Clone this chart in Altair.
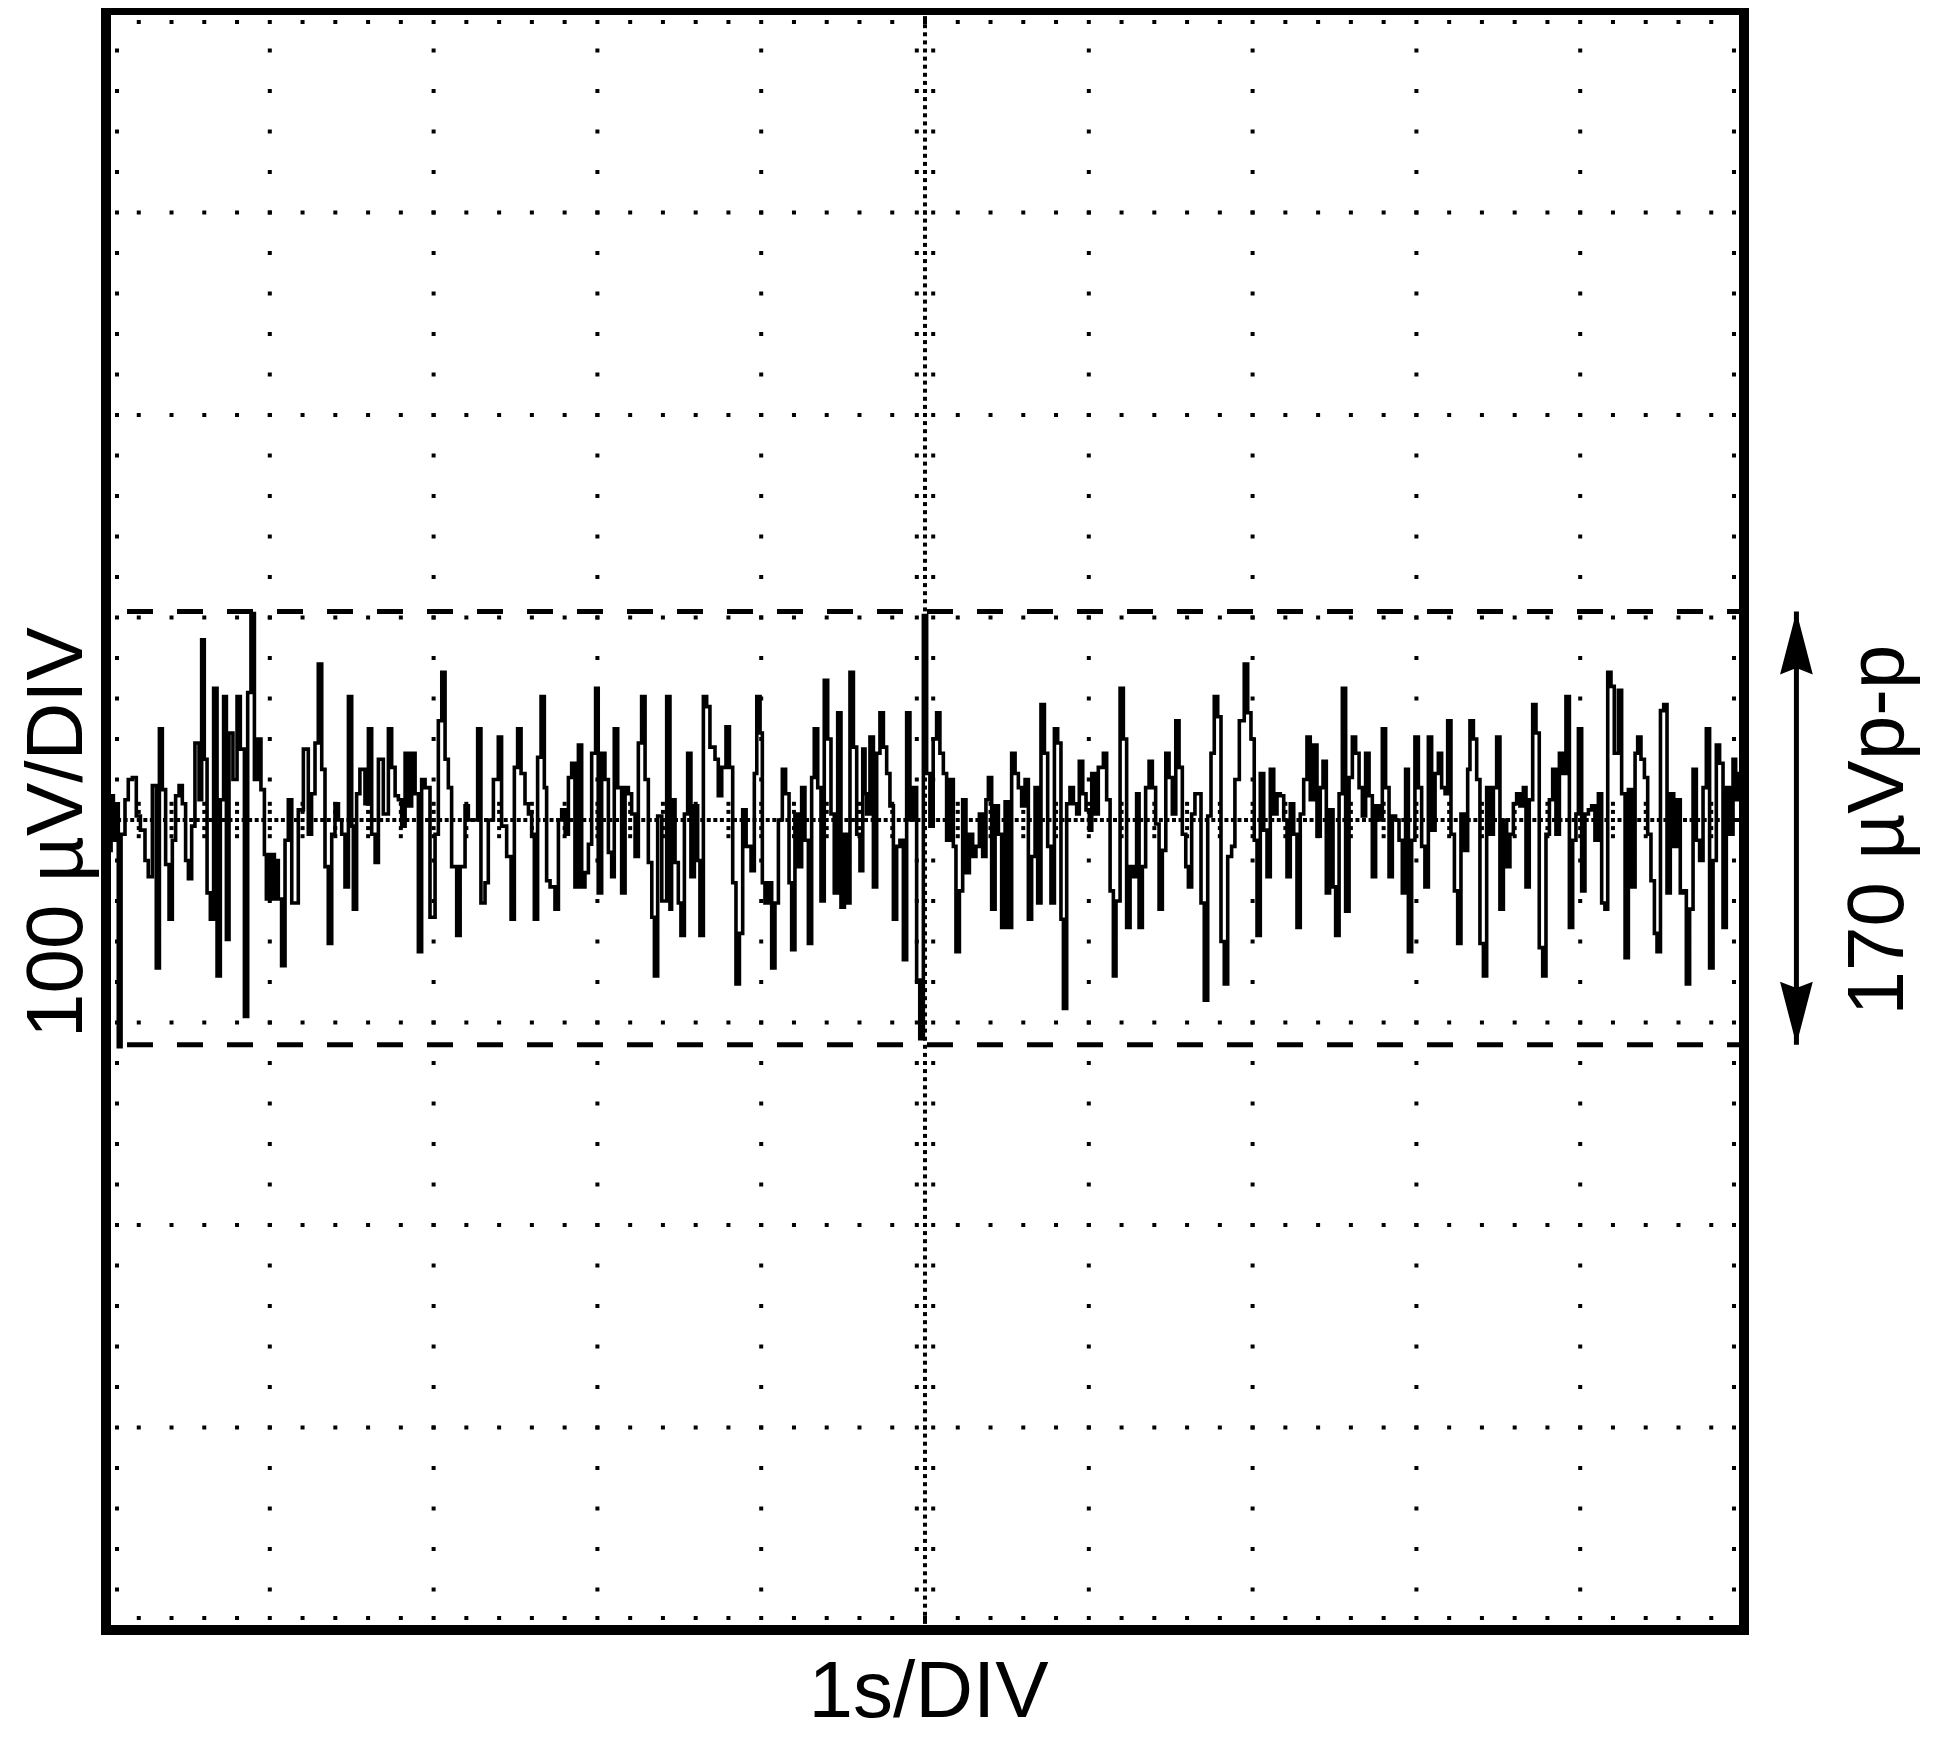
import altair as alt
import pandas as pd

X_TITLE = "1s/DIV"
Y_TITLE = "100 µV/DIV"
PP_LABEL = "170 µVp-p"
FONT = "Liberation Sans"

# graticule: 1 s/DIV x 10 divisions, 100 µV/DIV x 8 divisions
T_DOMAIN = [0, 10]
V_DOMAIN = [-400, 400]
MAJOR_T = list(range(0, 11))
MAJOR_V = list(range(-400, 401, 100))

# noise trace (time s, µV), in stretches
seg1 = [(0.0, 5), (0.014, -15), (0.031, 12), (0.045, -10), (0.059, 8), (0.075, -112), (0.092, -7),
        (0.116, 10), (0.136, 20), (0.161, 21), (0.185, 2), (0.21, -5), (0.238, -20), (0.258, -28),
        (0.283, 17), (0.307, -73), (0.326, 45), (0.344, 15), (0.364, -22), (0.385, -49), (0.405, -10),
        (0.425, 12), (0.446, 17), (0.466, 8), (0.486, -20), (0.503, -29), (0.523, -3), (0.543, 38),
        (0.568, 10), (0.584, 89), (0.6, 30), (0.617, -36), (0.637, -49), (0.657, 65), (0.678, -77),
        (0.698, 10), (0.718, 61), (0.735, -59), (0.751, 43), (0.775, 20), (0.8, 61), (0.82, 35),
        (0.845, -97), (0.865, 63), (0.885, 102), (0.906, 20), (0.926, 40), (0.946, 15), (0.967, -17),
        (0.979, -39), (0.991, -17), (1.003, -39), (1.015, -17), (1.028, -39), (1.04, -20), (1.052, -39),
        (1.072, -72), (1.093, -10), (1.113, 10)]
seg2 = [(1.134, -41), (1.174, 5), (1.205, 35), (1.235, -7), (1.255, 13), (1.276, 38), (1.296, 77),
        (1.317, 25), (1.337, -23), (1.357, -61), (1.378, -7), (1.398, 8), (1.419, 0), (1.439, -7),
        (1.459, -33), (1.48, 61), (1.5, -3), (1.51, -44), (1.53, 13), (1.55, 25), (1.581, 8), (1.602, 45),
        (1.622, -7), (1.643, -21), (1.663, 30), (1.693, 3), (1.724, 45), (1.744, 26), (1.765, 12),
        (1.785, 10), (1.805, -3), (1.826, 33), (1.846, 7), (1.866, 33), (1.887, 13), (1.907, -65),
        (1.927, 20), (1.948, 16), (1.978, -48), (2.009, -7), (2.029, 49), (2.05, 73), (2.07, 30),
        (2.09, 16), (2.11, -23), (2.141, -57), (2.162, -23), (2.192, 7), (2.212, 0), (2.243, 0)]
seg3 = [(2.269, 45), (2.289, -41), (2.314, -31), (2.334, 0), (2.365, 20), (2.395, 41), (2.415, -3),
        (2.446, -18), (2.473, -49), (2.493, 26), (2.513, 45), (2.534, 23), (2.558, 8), (2.579, 3),
        (2.599, -7), (2.615, -49), (2.635, 31), (2.656, 61), (2.676, 16), (2.69, -30), (2.711, -33),
        (2.741, -44), (2.762, 0), (2.782, 5), (2.803, -7), (2.823, 21), (2.843, 28), (2.863, -33),
        (2.884, 37), (2.904, -33), (2.924, -26), (2.945, -12), (2.965, 33), (2.989, 65), (3.005, -36),
        (3.026, 33), (3.046, 20), (3.067, -16), (3.087, -28), (3.103, 45), (3.124, 16), (3.148, -36),
        (3.169, 16), (3.189, 13), (3.209, 3), (3.23, -18), (3.25, 38), (3.27, 61), (3.291, 20),
        (3.311, -21), (3.332, -48), (3.348, -77), (3.368, 2), (3.393, -40), (3.423, 61), (3.443, -44)]
seg4 = [(3.453, 10), (3.474, -21), (3.494, -41), (3.51, -57), (3.531, 3), (3.551, 33), (3.571, -28),
        (3.592, 7), (3.612, -20), (3.626, -57), (3.647, 61), (3.667, 56), (3.687, 36), (3.718, 30),
        (3.738, 12), (3.759, 26), (3.785, 46), (3.806, 26), (3.826, -31), (3.846, -81), (3.867, -56),
        (3.887, 5), (3.908, -13), (3.938, -25), (3.958, 23), (3.973, 61), (3.993, 43), (4.007, -31),
        (4.023, -41), (4.044, -31), (4.064, -73), (4.084, -41), (4.105, 0), (4.129, 25), (4.149, 13),
        (4.17, -31), (4.186, -64), (4.206, 3), (4.226, -23), (4.247, 16), (4.267, -10), (4.288, -61),
        (4.308, 21), (4.324, 45), (4.345, 16), (4.365, -40), (4.385, 69), (4.406, 40), (4.426, 3),
        (4.446, -36), (4.467, 53), (4.487, -43), (4.508, -7), (4.528, -41), (4.542, 73), (4.563, 36),
        (4.583, -7), (4.603, -25)]
seg5 = [(4.62, 35), (4.634, 13), (4.644, 3), (4.664, 41), (4.685, -33), (4.705, 33), (4.725, 53),
        (4.746, 36), (4.766, 23), (4.786, 7), (4.807, -49), (4.827, -13), (4.847, -10), (4.868, -69),
        (4.888, 53), (4.908, 0), (4.929, 16), (4.949, -79), (4.968, -108), (4.99, 101), (5.01, 23),
        (5.03, -3), (5.05, 40), (5.071, 53), (5.091, 33), (5.112, 23), (5.132, -10), (5.153, 20),
        (5.173, -13), (5.189, -65), (5.21, -35), (5.23, 10), (5.25, -26), (5.271, -7), (5.291, -18),
        (5.311, -13), (5.332, 3), (5.352, -18), (5.372, 10), (5.387, 21), (5.407, -44), (5.428, 7),
        (5.448, -7), (5.468, -53), (5.489, 9), (5.509, -53), (5.529, 33), (5.55, 23), (5.57, 16),
        (5.59, 7), (5.611, 20), (5.631, -49), (5.651, -18), (5.672, 16), (5.688, -41), (5.708, 57),
        (5.729, 33), (5.749, -13)]
seg6 = [(5.769, -41), (5.79, 45), (5.81, 38), (5.83, -49), (5.845, -93), (5.865, 8), (5.885, 16),
        (5.906, 8), (5.926, 3), (5.942, 29), (5.963, 13), (5.983, 5), (6.003, -5), (6.018, 23),
        (6.038, 3), (6.058, 26), (6.089, 33), (6.109, 10), (6.13, -35), (6.15, -77), (6.166, -40),
        (6.191, 65), (6.211, 40), (6.231, -53), (6.252, -23), (6.272, -28), (6.292, 13), (6.307, -53),
        (6.327, -23), (6.347, 16), (6.368, 29), (6.388, 16), (6.408, -2), (6.429, -44), (6.449, -15),
        (6.47, 33), (6.49, 21), (6.51, 3), (6.531, 49), (6.551, 26), (6.571, -7), (6.592, -23),
        (6.608, -33), (6.628, 3), (6.648, 13), (6.669, 13), (6.685, -41), (6.705, -89), (6.726, 2),
        (6.746, 33), (6.766, 61), (6.787, 51), (6.807, -60), (6.827, -81), (6.848, -18), (6.872, -13),
        (6.892, 20), (6.919, 49)]
seg7 = [(6.949, 77), (6.97, 53), (6.99, 40), (7.01, -10), (7.027, -57), (7.047, 23), (7.068, -5),
        (7.088, -28), (7.108, 25), (7.129, 3), (7.149, 13), (7.169, 12), (7.19, 0), (7.21, -28),
        (7.23, 8), (7.251, -7), (7.271, -53), (7.291, 3), (7.312, 20), (7.332, 41), (7.352, 10),
        (7.373, 37), (7.393, -8), (7.413, 16), (7.43, 29), (7.45, -36), (7.47, 5), (7.491, -33),
        (7.507, -57), (7.528, 13), (7.548, 65), (7.568, -45), (7.589, 21), (7.609, 41), (7.629, 33),
        (7.65, 16), (7.67, 2), (7.69, 33), (7.711, 12), (7.731, -28), (7.751, 7), (7.772, 0),
        (7.792, 45), (7.812, 16), (7.833, -28), (7.853, 2), (7.873, 0), (7.894, -10), (7.914, -36),
        (7.934, 25), (7.951, -65), (7.971, -10), (7.991, 41), (8.012, 16), (8.032, -13), (8.052, -33),
        (8.073, 41)]
seg8 = [(8.093, -5), (8.114, 23), (8.134, 33), (8.154, 16), (8.175, 13), (8.191, 49), (8.211, -7),
        (8.232, -35), (8.252, -61), (8.272, 3), (8.293, -15), (8.313, 25), (8.327, 49), (8.348, 40),
        (8.368, 20), (8.388, -61), (8.409, -77), (8.429, 16), (8.449, -7), (8.47, 16), (8.49, 41),
        (8.51, -44), (8.531, 0), (8.551, -23), (8.571, -7), (8.592, 8), (8.612, 13), (8.632, 7),
        (8.653, 16), (8.669, -33), (8.689, 10), (8.71, 57), (8.73, 43), (8.75, -63), (8.771, -77),
        (8.791, -7), (8.812, 10), (8.832, 25), (8.852, -7), (8.873, 33), (8.893, 23), (8.913, 61),
        (8.934, -53), (8.954, -10), (8.974, 3), (8.989, 45), (9.009, -35), (9.029, 3), (9.05, 5),
        (9.07, 7), (9.09, -10), (9.111, 13), (9.131, -41), (9.151, -44), (9.168, 73), (9.188, 66),
        (9.208, 33), (9.233, 64)]
seg9 = [(9.253, 13), (9.274, -68), (9.294, 15), (9.314, -33), (9.335, 33), (9.351, 41), (9.371, 30),
        (9.392, 21), (9.412, -7), (9.432, -30), (9.453, -56), (9.469, -65), (9.49, 54), (9.51, 57),
        (9.53, -36), (9.55, 13), (9.571, -13), (9.591, 10), (9.611, -36), (9.632, -35), (9.648, -81),
        (9.668, -44), (9.689, 25), (9.709, -10), (9.729, -20), (9.75, 16), (9.77, 45), (9.79, -73),
        (9.811, -20), (9.831, 37), (9.851, 28), (9.872, -53), (9.892, 16), (9.912, -7), (9.933, 30),
        (9.949, 10), (9.965, 23), (10.0, 23)]

DASH_LEVELS = [103, -111]      # µV, the dashed peak-to-peak markers
ARROW_T = 10.32                # s, position of the double arrow right of the screen
LABEL_T = 10.97                # s, baseline of the rotated p-p label
LABEL_V = -5                   # µV, centre of the rotated p-p label

trace = seg1 + seg2 + seg3 + seg4 + seg5 + seg6 + seg7 + seg8 + seg9
trace_df = pd.DataFrame(trace, columns=["t", "v"])

xs = alt.Scale(domain=T_DOMAIN, nice=False, zero=False)
ys = alt.Scale(domain=V_DOMAIN, nice=False, zero=False)

xaxis = alt.Axis(
    title=X_TITLE, labels=False, ticks=False, domain=False, grid=False,
    titleFont=FONT, titleFontSize=80, titleFontWeight="normal", titleColor="black",
    titleBaseline="alphabetic", titleAlign="center", titleAngle=0, titleX=822, titleY=86,
)
yaxis = alt.Axis(
    title=Y_TITLE, labels=False, ticks=False, domain=False, grid=False,
    titleFont=FONT, titleFontSize=80, titleFontWeight="normal", titleColor="black",
    titleBaseline="alphabetic", titleAlign="center", titleAngle=270, titleX=-25, titleY=822,
)


def X(field="t"):
    return alt.X(f"{field}:Q", scale=xs, axis=xaxis, title=X_TITLE)


def Y(field="v"):
    return alt.Y(f"{field}:Q", scale=ys, axis=yaxis, title=Y_TITLE)


# graticule dots
grid = []
for t in MAJOR_T[1:-1]:
    if t == 5:
        continue
    for j in range(41):
        grid.append((t, -400 + 20 * j))
for v in MAJOR_V[1:-1]:
    if v == 0:
        continue
    for i in range(51):
        grid.append((round(0.2 * i, 3), v))
# centre cross: fine dots plus little cross ticks every minor division
for j in range(201):
    grid.append((5, -400 + 4 * j))
for i in range(251):
    grid.append((round(0.04 * i, 3), 0))
for i in range(51):
    for dv in (-8, -4, 4, 8):
        grid.append((round(0.2 * i, 3), dv))
for j in range(41):
    for dt in (-0.05, 0.05):
        grid.append((5 + dt, -400 + 20 * j))
grid_df = pd.DataFrame(grid, columns=["t", "v"])

top_df = pd.DataFrame({"t": [round(0.2 * i, 3) for i in range(1, 50)], "v": 400})
bot_df = pd.DataFrame({"t": [round(0.2 * i, 3) for i in range(1, 50)], "v": -400})
left_df = pd.DataFrame({"t": 0, "v": [-400 + 20 * j for j in range(1, 40)]})
right_df = pd.DataFrame({"t": 10, "v": [-400 + 20 * j for j in range(1, 40)]})


def dots(df, **kw):
    return alt.Chart(df).mark_square(size=16, color="black", opacity=1, **kw).encode(x=X(), y=Y())


grid_layer = dots(grid_df)
edge_layers = [
    dots(top_df, yOffset=12),
    dots(bot_df, yOffset=-12),
    dots(left_df, xOffset=11),
    dots(right_df, xOffset=-10),
]

dash_layer = alt.Chart(pd.DataFrame({"v": DASH_LEVELS})).mark_rule(
    color="black", strokeWidth=5, strokeDash=[26, 24], strokeDashOffset=9
).encode(y=Y())

trace_layer = alt.Chart(trace_df).mark_line(
    interpolate="step-after", color="black", strokeWidth=3.6
).encode(x=X(), y=Y())

arrow_df = pd.DataFrame({"t": [ARROW_T], "v1": [DASH_LEVELS[0]], "v2": [DASH_LEVELS[1]]})
arrow_line = alt.Chart(arrow_df).mark_rule(color="black", strokeWidth=5).encode(
    x=X(), y=Y("v1"), y2="v2:Q",
)
head_up = alt.Chart(pd.DataFrame({"t": [ARROW_T], "v": [DASH_LEVELS[0]]})).mark_point(
    shape="M0,-1L0.52,1L0,0.8L-0.52,1Z", size=3969, filled=True, fill="black",
    strokeWidth=0, opacity=1, yOffset=31.5,
).encode(x=X(), y=Y())
head_down = alt.Chart(pd.DataFrame({"t": [ARROW_T], "v": [DASH_LEVELS[1]]})).mark_point(
    shape="M0,1L0.52,-1L0,-0.8L-0.52,-1Z", size=3969, filled=True, fill="black",
    strokeWidth=0, opacity=1, yOffset=-31.5,
).encode(x=X(), y=Y())

label_layer = alt.Chart(pd.DataFrame({"t": [LABEL_T], "v": [LABEL_V], "s": [PP_LABEL]})).mark_text(
    angle=270, baseline="alphabetic", align="center", font=FONT, fontSize=80, color="black"
).encode(x=X(), y=Y(), text="s:N")

chart = alt.layer(
    trace_layer, grid_layer, *edge_layers, dash_layer, arrow_line, head_up, head_down, label_layer
).properties(
    width=1638,
    height=1620,
    padding={"left": 98, "top": 2, "right": 190, "bottom": 103},
    autosize=alt.AutoSizeParams(type="none"),
    background="white",
).configure_view(stroke="black", strokeWidth=10)

chart.save("out.html", embed_options={"renderer": "svg", "actions": False})
